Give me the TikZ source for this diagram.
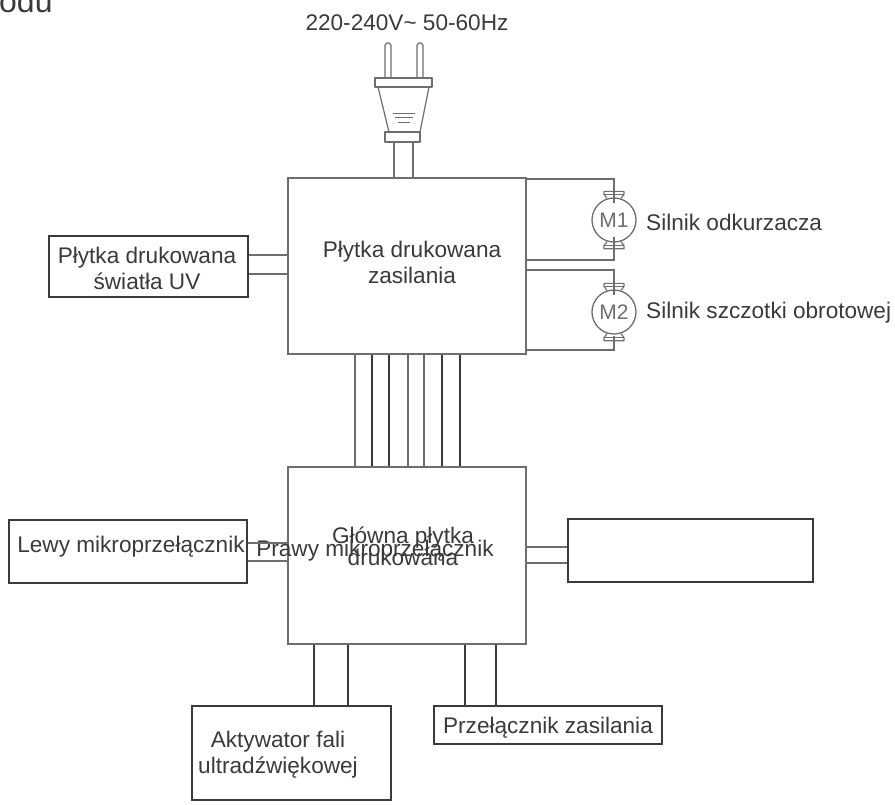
\documentclass[tikz,border=0pt]{standalone}
\usepackage{fontspec}
\setmainfont{Liberation Sans}
\definecolor{ink}{HTML}{3A3A3A}
\definecolor{wire}{HTML}{6E6E6E}
\tikzset{
 x=1pt,y=-1pt,
 box/.style={draw=#1,line width=1.5pt,anchor=north west,inner sep=0pt,text=ink},
 box/.default=ink,
 wirel/.style={draw=wire,line width=1.5pt},
 darkl/.style={draw=ink,line width=1.5pt},
 txt/.style={text=ink,font=\fontsize{22.6}{26}\selectfont,align=center,inner sep=0pt},
 motor/.style={circle,draw=wire,line width=1.3pt,minimum size=44pt,inner sep=0pt,text=wire,font=\fontsize{21}{21}\selectfont},
 part/.style={draw=wire,line width=1.2pt,line join=round},
}
\begin{document}
\begin{tikzpicture}
\useasboundingbox (0,0) rectangle (895,804);
\node[txt,anchor=base west,font=\fontsize{32}{32}\selectfont] (head) at (-1,12) {odu};
\node[txt,anchor=center,font=\fontsize{22.6}{24}\selectfont] (volt) at (407,23) {220-240V\textasciitilde{} 50-60Hz};

% boards
\node[box=wire,minimum width=238pt,minimum height=176pt] (pwr) at (287.25,177.25) {};
\node[box=wire,minimum width=238pt,minimum height=177pt] (main) at (287.25,466.25) {};
\node[box,minimum width=199pt,minimum height=61pt] (uv) at (48.25,235.25) {};
\node[box,minimum width=238pt,minimum height=63pt] (left) at (8.25,519.25) {};
\node[box,minimum width=245pt,minimum height=63pt] (right) at (567.25,518.25) {};
\node[box,minimum width=199pt,minimum height=94pt] (act) at (191.25,705.25) {};
\node[box,minimum width=228pt,minimum height=38pt] (sw) at (433.25,705.25) {};

% labels
\node[txt] (pwrt) at (412,262) {Płytka drukowana\\zasilania\hspace{16pt}};
\node[txt] (uvt) at (147,268) {Płytka drukowana\\światła UV};
\node[txt,anchor=center] (leftt) at (131,547) {Lewy mikroprzełącznik};
\node[txt,font=\fontsize{22.6}{22}\selectfont] (maint) at (403,546) {Główna płytka\\drukowana};
\node[txt] (rightt) at (375,551) {Prawy mikroprzełącznik};
\node[txt] (actt) at (278,755) {Aktywator fali\\ultradźwiękowej};
\node[txt] (swt) at (548,728) {Przełącznik zasilania};
\node[txt,anchor=west] (m1t) at (646,222) {Silnik odkurzacza};
\node[txt,anchor=west] (m2t) at (646,313) {Silnik szczotki obrotowej};

% side links
\foreach \yy in {255,274}{\draw[wirel] (uv.east |- 0,\yy) -- (pwr.west |- 0,\yy);}
\foreach \yy in {543,561}{\draw[wirel] (left.east |- 0,\yy) -- (main.west |- 0,\yy);}
\foreach \yy in {547,563}{\draw[wirel] (main.east |- 0,\yy) -- (right.west |- 0,\yy);}
\foreach \xx/\cc in {355/wire,372/ink,389/ink,408/wire,424/wire,442/ink,460/ink}{\draw[draw=\cc,line width=1.4pt] (\xx,0 |- pwr.south) -- (\xx,0 |- main.north);}
\foreach \xx in {314,348}{\draw[darkl] (\xx,0 |- main.south) -- (\xx,0 |- act.north);}
\foreach \xx in {465,496}{\draw[darkl] (\xx,0 |- main.south) -- (\xx,0 |- sw.north);}

% motors
\node[motor] (m1) at (614,220) {M1};
\node[motor] (m2) at (614,312) {M2};
\foreach \mm in {m1,m2}{
 \draw[part] ([shift={(-7,1)}]\mm.north) -- ([shift={(-10,-3)}]\mm.north) -- ([shift={(-10,-6)}]\mm.north) -- ([shift={(10,-6)}]\mm.north) -- ([shift={(10,-3)}]\mm.north) -- ([shift={(7,1)}]\mm.north);
 \draw[part] ([shift={(-10,-3)}]\mm.north) -- ([shift={(10,-3)}]\mm.north);
 \draw[part] ([shift={(-7,-1)}]\mm.south) -- ([shift={(-10,3)}]\mm.south) -- ([shift={(-10,6)}]\mm.south) -- ([shift={(10,6)}]\mm.south) -- ([shift={(10,3)}]\mm.south) -- ([shift={(7,-1)}]\mm.south);
 \draw[part] ([shift={(-10,3)}]\mm.south) -- ([shift={(10,3)}]\mm.south);
}
\draw[wirel] (pwr.east |- 0,179) -| ([yshift=-6pt]m1.north);
\draw[wirel] (pwr.east |- 0,260) -| ([yshift=6pt]m1.south);
\draw[wirel] (pwr.east |- 0,270) -| ([yshift=-6pt]m2.north);
\draw[wirel] (pwr.east |- 0,350) -| ([yshift=-1pt]m2.south);

% plug
\coordinate (plugbase) at (403.5,142);
\draw[part] (385,78) -- (385,45) -- (387,43) -- (389,43) -- (391,45) -- (391,78);
\draw[part] (417,78) -- (417,45) -- (419,43) -- (421,43) -- (423,45) -- (423,78);
\draw[part] (375,78) rectangle (432,87);
\draw[part] (378,87) -- (389,132) (429,87) -- (420,132);
\draw[part] (385,132) rectangle (420,142);
\draw[part,line width=1pt] (393,113) -- (415,113) (395,117.5) -- (413,117.5) (398,122) -- (410,122);
\draw[wirel] (394,0 |- plugbase) -- (394,0 |- pwr.north);
\draw[wirel] (413,0 |- plugbase) -- (413,0 |- pwr.north);
\end{tikzpicture}
\end{document}
